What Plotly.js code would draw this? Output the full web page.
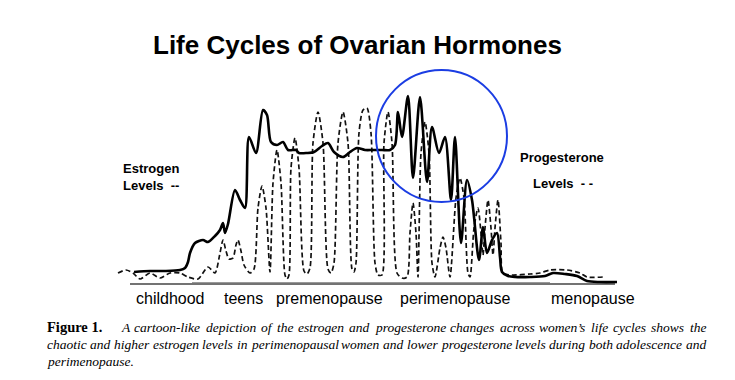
<!DOCTYPE html>
<html>
<head>
<meta charset="utf-8">
<script src="https://cdn.plot.ly/plotly-3.0.1.min.js"></script>
<style>html,body{margin:0;padding:0;background:#fff;}#chart{width:735px;height:380px;}</style>
</head>
<body>
<div id="chart"></div>
<script>
// Estrogen curve (stage position along the life span, level above baseline)
const estrogenStage = [134,150,165,180,185,188,190,195,203,208,215,220,223,225,228,235,240,245,249,256,263,267,271,277,283,288,296,299,307,314,322,328,334,343,350,357,365,373,382,390,395,398,402,408,413,420,427,432,439,445,451,455,461,467,472,479,483,487,492,497,500,502,508,515,530,545,553,565,577,587,600,617];
const estrogenLevel = [11,12,12,13,15,21,30,40,43,41,47,53,60,50,59,93,83,75,146,130,173,168,141,138,141,133,133,130,130,131,137,140,131,126,131,135,133,133,133,133,138,171,146,187,105,186,101,156,130,146,83,146,40,103,83,23,56,30,43,50,26,11,7,6,6,7,10,9,7,2,1,1];

// Progesterone curve
const progStage = [118,126,133,140,150,160,170,180,188,198,208,215,
  220,223,226,229,233,236,238,241,244,250,254,
  258,262,266,270,
  273,277,281,285,287,289,
  291,295,299,304,307,310,
  313,318,323,328,331,334,
  338,343,348,352,354,356,
  359,363,367,371,375,378,382,
  384,388,392,397,402,
  407,410,413,416,418,
  421,425,429,432,435,
  440,443,446,450,
  456,460,464,468,470,
  474,478,481,483,485,488,491,493,495,498,501,503,
  512,530,540,550,567,580,587,603];
const progLevel = [10,13,10,4,10,5,10,10,6,4,16,10,
  30,43,32,24,25,38,43,32,18,10,14,
  75,97,75,11,
  100,133,100,8,4,8,
  115,145,115,12,9,15,
  140,171,140,14,10,20,
  140,171,140,14,11,20,
  150,173,175,150,20,8,8,
  140,171,140,10,5,
  6,50,80,50,6,
  130,161,130,20,6,
  35,46,35,6,
  85,105,85,10,6,
  55,75,50,28,55,83,55,28,55,83,40,10,
  8,9,10,13,13,10,6,6];

// Life-stage labels and their centre positions
const stageLabels = ["childhood","teens","premenopause","perimenopause","menopause"];
const stageLabelPos = [170.5,243,329.5,455,592.5];

const titleText = "Life Cycles of Ovarian Hormones";
const captionLead = "Figure 1.";
const captionLine1 = "A cartoon-like depiction of the estrogen and progesterone changes across women\u2019s life cycles shows the";
const captionLine2 = "chaotic and higher estrogen levels in perimenopausal women and lower progesterone levels during both adolescence and";
const captionLine3 = "perimenopause.";

// ---- layout helpers: axis range maps 1 unit = 1 px, baseline at py=283
const BASE = 283;
const lv = py => BASE - py;

const sans = "Liberation Sans, Arial, sans-serif";
const serif = "Liberation Serif, Times New Roman, serif";

const annotations = [];
annotations.push({x: 357, y: lv(45), text: "<b>" + titleText + "</b>", showarrow: false,
  xanchor: "center", yanchor: "middle", font: {family: sans, size: 26, color: "#000"}});
annotations.push({x: 121, y: lv(168), text: "<b>Estrogen</b>", showarrow: false, xanchor: "left", yanchor: "middle", font: {family: sans, size: 13, color: "#000"}});
annotations.push({x: 121, y: lv(185), text: "<b>Levels  --</b>", showarrow: false, xanchor: "left", yanchor: "middle", font: {family: sans, size: 13, color: "#000"}});
annotations.push({x: 518, y: lv(157), text: "<b>Progesterone</b>", showarrow: false, xanchor: "left", yanchor: "middle", font: {family: sans, size: 13, color: "#000"}});
annotations.push({x: 531, y: lv(183), text: "<b>Levels  - -</b>", showarrow: false, xanchor: "left", yanchor: "middle", font: {family: sans, size: 13, color: "#000"}});
stageLabels.forEach((t, i) => annotations.push({x: stageLabelPos[i], y: lv(298), text: t, showarrow: false,
  xanchor: "center", yanchor: "middle", font: {family: sans, size: 16, color: "#000"}}));

// caption, justified word by word
const cv = document.createElement("canvas").getContext("2d");
const CAP = 13.5;
function measure(w) {
  cv.font = "italic " + CAP + "px 'Liberation Serif'";
  return cv.measureText(w).width;
}
function justify(line, x0, x1, py) {
  const words = line.split(" ");
  const widths = words.map(w => measure(w));
  const total = widths.reduce((a, b) => a + b, 0);
  const gap = (x1 - x0 - total) / (words.length - 1);
  let x = x0;
  words.forEach((w, i) => {
    annotations.push({x: x - 1, y: lv(py), text: "<i>" + w + "</i>", showarrow: false, xanchor: "left", yanchor: "middle",
      font: {family: serif, size: CAP, color: "#000"}});
    x += widths[i] + gap;
  });
}
annotations.push({x: 45, y: lv(327), text: "<b>" + captionLead + "</b>", showarrow: false, xanchor: "left", yanchor: "middle",
  font: {family: serif, size: 14.5, color: "#000"}});
justify(captionLine1, 120, 705, 327);
justify(captionLine2, 46, 705, 344);
annotations.push({x: 45, y: lv(361), text: "<i>" + captionLine3 + "</i>", showarrow: false, xanchor: "left", yanchor: "middle",
  font: {family: serif, size: CAP, color: "#000"}});

const traces = [
  {x: progStage, y: progLevel, type: "scatter", mode: "lines", name: "Progesterone",
   line: {color: "#111", width: 1.7, dash: "5px,3px", shape: "spline", smoothing: 0.7}},
  {x: estrogenStage, y: estrogenLevel, type: "scatter", mode: "lines", name: "Estrogen",
   line: {color: "#000", width: 2.6, shape: "spline", smoothing: 0.8}}
];

const layout = {
  width: 735, height: 380,
  margin: {l: 0, r: 0, t: 0, b: 0},
  paper_bgcolor: "#fff", plot_bgcolor: "#fff",
  showlegend: false,
  xaxis: {range: [0, 735], visible: false, fixedrange: true},
  yaxis: {range: [BASE - 380, BASE], visible: false, fixedrange: true},
  annotations: annotations,
  shapes: [
    {type: "line", xref: "x", yref: "y", x0: 130, x1: 615, y0: lv(284), y1: lv(284), line: {color: "#444", width: 1.4}, layer: "below"},
    {type: "line", xref: "x", yref: "y", x0: 192, x1: 550, y0: lv(282.5), y1: lv(282.5), line: {color: "#999", width: 1}, layer: "below"},
    {type: "circle", xref: "x", yref: "y", x0: 376, x1: 507, y0: lv(202), y1: lv(70), line: {color: "#1b3de3", width: 2}}
  ]
};

Plotly.newPlot("chart", traces, layout, {displayModeBar: false, staticPlot: true});
</script>
</body>
</html>
